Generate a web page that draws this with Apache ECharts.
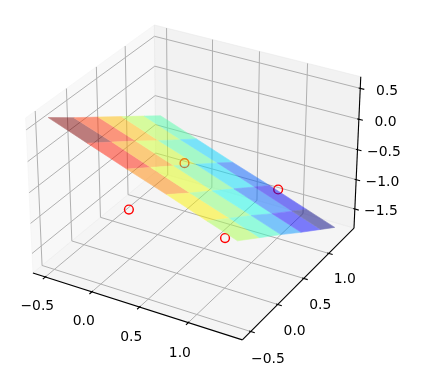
<!DOCTYPE html>
<html><head><meta charset="utf-8">
<script src="https://cdn.jsdelivr.net/npm/echarts/dist/echarts.min.js"></script>
<style>html,body{margin:0;padding:0;background:#fff}#c{width:423px;height:385px}</style>
</head><body><div id="c"></div>
<script>
// ---------------- data ----------------
const X_GRID = [-0.5, -0.1, 0.3, 0.7, 1.1, 1.4];
const Y_GRID = [-0.5, -0.1, 0.3, 0.7, 1.1, 1.4];
// Z_GRID[j][i] : surface height at (X_GRID[i], Y_GRID[j])
const Z_GRID = [
  [ 0.64,  0.41,  0.18, -0.04, -0.27, -0.44],
  [ 0.35,  0.13, -0.10, -0.33, -0.55, -0.72],
  [ 0.07, -0.15, -0.38, -0.61, -0.83, -1.00],
  [-0.21, -0.44, -0.66, -0.89, -1.12, -1.29],
  [-0.49, -0.72, -0.94, -1.17, -1.40, -1.57],
  [-0.70, -0.93, -1.16, -1.38, -1.61, -1.78]
];
const PTS_X = [0, 0, 1, 1];
const PTS_Y = [0, 1, 0, 1];
const PTS_Z = [-1, -1, -1, -1];

const X_TICKS = [-0.5, 0.0, 0.5, 1.0];
const Y_TICKS = [-0.5, 0.0, 0.5, 1.0];
const Z_TICKS = [-1.5, -1.0, -0.5, 0.0, 0.5];
const X_TICK_LABELS = ['\u22120.5', '0.0', '0.5', '1.0'];
const Y_TICK_LABELS = ['\u22120.5', '0.0', '0.5', '1.0'];
const Z_TICK_LABELS = ['\u22121.5', '\u22121.0', '\u22120.5', '0.0', '0.5'];

// axis box extents (data units)
const X_LIM = [-0.635, 1.541];
const Y_LIM = [-0.650, 1.526];
const Z_LIM = [-1.829, 0.686];

// ---------------- 3D view (elev=30, azim=-60) ----------------
const ELEV = 30 * Math.PI / 180, AZIM = -60 * Math.PI / 180;
const BOX = [4, 4, 3];
const DIST = 35;
const Wv = [Math.cos(ELEV) * Math.cos(AZIM), Math.cos(ELEV) * Math.sin(AZIM), Math.sin(ELEV)];
let Uv = [-Wv[1], Wv[0], 0];
{ const n = Math.hypot(Uv[0], Uv[1]); Uv = [Uv[0] / n, Uv[1] / n, 0]; }
const Vv = [Wv[1] * Uv[2] - Wv[2] * Uv[1], Wv[2] * Uv[0] - Wv[0] * Uv[2], Wv[0] * Uv[1] - Wv[1] * Uv[0]];
const CX = 196.3, CY = 175.2, KX = 2100, KY = 2063;

function boxCoord(x, y, z) {
  return [(x - X_LIM[0]) / (X_LIM[1] - X_LIM[0]) * BOX[0],
          (y - Y_LIM[0]) / (Y_LIM[1] - Y_LIM[0]) * BOX[1],
          (z - Z_LIM[0]) / (Z_LIM[1] - Z_LIM[0]) * BOX[2]];
}
function projBox(b) {
  const q = [b[0] - BOX[0] / 2, b[1] - BOX[1] / 2, b[2] - BOX[2] / 2];
  const X = Uv[0] * q[0] + Uv[1] * q[1] + Uv[2] * q[2];
  const Y = Vv[0] * q[0] + Vv[1] * q[1] + Vv[2] * q[2];
  const D = DIST - (Wv[0] * q[0] + Wv[1] * q[1] + Wv[2] * q[2]);
  return [CX + KX * X / D, CY - KY * Y / D];
}
function proj(x, y, z) { return projBox(boxCoord(x, y, z)); }

// jet colormap
const JET_R = [[0, 0], [0.35, 0], [0.66, 1], [0.89, 1], [1, 0.5]];
const JET_G = [[0, 0], [0.125, 0], [0.375, 1], [0.64, 1], [0.91, 0], [1, 0]];
const JET_B = [[0, 0.5], [0.11, 1], [0.34, 1], [0.65, 0], [1, 0]];
function seg(s, v) {
  for (let k = 0; k < s.length - 1; k++) {
    if (v >= s[k][0] && v <= s[k + 1][0]) return s[k][1] + (s[k + 1][1] - s[k][1]) * (v - s[k][0]) / (s[k + 1][0] - s[k][0]);
  }
  return v < 0 ? s[0][1] : s[s.length - 1][1];
}
function jet(v, a) {
  v = Math.min(1, Math.max(0, v));
  return 'rgba(' + Math.round(seg(JET_R, v) * 255) + ',' + Math.round(seg(JET_G, v) * 255) + ',' + Math.round(seg(JET_B, v) * 255) + ',' + a + ')';
}

// ---------------- build primitives ----------------
const xl = X_LIM, yl = Y_LIM, zl = Z_LIM;
const panes = [
  { pts: [[xl[0], yl[0], zl[0]], [xl[0], yl[1], zl[0]], [xl[0], yl[1], zl[1]], [xl[0], yl[0], zl[1]]], color: 'rgba(242,242,242,0.5)' },
  { pts: [[xl[0], yl[1], zl[0]], [xl[1], yl[1], zl[0]], [xl[1], yl[1], zl[1]], [xl[0], yl[1], zl[1]]], color: 'rgba(230,230,230,0.5)' },
  { pts: [[xl[0], yl[0], zl[0]], [xl[1], yl[0], zl[0]], [xl[1], yl[1], zl[0]], [xl[0], yl[1], zl[0]]], color: 'rgba(236,236,236,0.5)' }
];
const gridLines = [];
X_TICKS.forEach(t => gridLines.push([[t, yl[0], zl[0]], [t, yl[1], zl[0]], [t, yl[1], zl[1]]]));
Y_TICKS.forEach(t => gridLines.push([[xl[1], t, zl[0]], [xl[0], t, zl[0]], [xl[0], t, zl[1]]]));
Z_TICKS.forEach(t => gridLines.push([[xl[0], yl[0], t], [xl[0], yl[1], t], [xl[1], yl[1], t]]));

const axisLines = [];
axisLines.push([boxCoord(xl[0], yl[0], zl[0]), boxCoord(xl[1], yl[0], zl[0])]);
axisLines.push([boxCoord(xl[1], yl[0], zl[0]), boxCoord(xl[1], yl[1], zl[0])]);
axisLines.push([boxCoord(xl[1], yl[1], zl[0]), boxCoord(xl[1], yl[1], zl[1])]);
const T_IN = 0.03, T_OUT = 0.075;
const labels = [];
X_TICKS.forEach((t, k) => {
  const b = boxCoord(t, yl[0], zl[0]);
  axisLines.push([[b[0], b[1] + T_IN, b[2]], [b[0], b[1] - T_OUT, b[2]]]);
  labels.push({ b: [b[0], b[1] - 0.27, b[2] - 0.44], text: X_TICK_LABELS[k] });
});
Y_TICKS.forEach((t, k) => {
  const b = boxCoord(xl[1], t, zl[0]);
  axisLines.push([[b[0] - T_IN, b[1], b[2]], [b[0] + T_OUT, b[1], b[2]]]);
  labels.push({ b: [b[0] + 0.322, b[1], b[2] - 0.435], text: Y_TICK_LABELS[k] });
});
Z_TICKS.forEach((t, k) => {
  const b = boxCoord(xl[1], yl[1], t);
  axisLines.push([[b[0] - T_IN, b[1], b[2]], [b[0] + T_OUT, b[1], b[2]]]);
  labels.push({ b: [b[0] + 0.43, b[1] + 0.137, b[2]], text: Z_TICK_LABELS[k] });
});

// surface cells
const cells = [];
for (let j = 0; j < Y_GRID.length - 1; j++) {
  for (let i = 0; i < X_GRID.length - 1; i++) {
    const pts = [[X_GRID[i], Y_GRID[j], Z_GRID[j][i]], [X_GRID[i + 1], Y_GRID[j], Z_GRID[j][i + 1]],
                 [X_GRID[i + 1], Y_GRID[j + 1], Z_GRID[j + 1][i + 1]], [X_GRID[i], Y_GRID[j + 1], Z_GRID[j + 1][i]]];
    const avg = pts.reduce((s, p) => s + p[2], 0) / 4;
    cells.push({ pts, avg });
  }
}
const aMin = Math.min(...cells.map(c => c.avg)), aMax = Math.max(...cells.map(c => c.avg));
cells.forEach(c => { c.t = (c.avg - aMin) / (aMax - aMin); });

const points = PTS_X.map((x, k) => [x, PTS_Y[k], PTS_Z[k]]);

// ---------------- echarts ----------------
function layer(z, items, build, zlevel) {
  return {
    type: 'custom', z, zlevel: zlevel || 0, silent: true, animation: false, clip: false,
    coordinateSystem: 'cartesian2d',
    data: items.map((_, i) => [i, 0]),
    renderItem: (params, api) => build(items[params.dataIndex], api)
  };
}
const C = (api, p) => api.coord(p);

function buildOption(surfAlpha) {
  return {
    animation: false,
    backgroundColor: '#ffffff',
    grid: { left: 0, right: 0, top: 0, bottom: 0, containLabel: false },
    xAxis: { type: 'value', min: 0, max: 423, show: false },
    yAxis: { type: 'value', min: 0, max: 385, inverse: true, show: false },
    series: [
      layer(1, panes, (p, api) => ({
        type: 'polygon',
        shape: { points: p.pts.map(v => C(api, proj(v[0], v[1], v[2]))) },
        style: { fill: p.color, stroke: p.color, lineWidth: 1 }
      })),
      layer(2, gridLines, (g, api) => ({
        type: 'polyline',
        shape: { points: g.map(v => C(api, proj(v[0], v[1], v[2]))) },
        style: { fill: null, stroke: '#b0b0b0', lineWidth: 1 }
      })),
      layer(3, axisLines, (l, api) => ({
        type: 'polyline',
        shape: { points: l.map(b => C(api, projBox(b))) },
        style: { fill: null, stroke: '#000000', lineWidth: 1.1 }
      })),
      layer(4, points, (p, api) => {
        const c = C(api, proj(p[0], p[1], p[2]));
        return { type: 'circle', shape: { cx: c[0], cy: c[1], r: 4.4 },
                 style: { fill: null, stroke: '#ff0000', lineWidth: 1.4 } };
      }),
      layer(6, labels, (l, api) => {
        const c = C(api, projBox(l.b));
        return { type: 'text', x: c[0], y: c[1],
                 style: { text: l.text, fill: '#000000', font: '13.9px "DejaVu Sans"', align: 'center', verticalAlign: 'middle' } };
      }),
      layer(5, cells, (c, api) => {
        const col = jet(c.t, surfAlpha);
        return {
          type: 'polygon',
          shape: { points: c.pts.map(v => C(api, proj(v[0], v[1], v[2]))) },
          style: surfAlpha >= 1 ? { fill: col, stroke: col, lineWidth: 0.6 } : { fill: col }
        };
      }, 1)
    ]
  };
}
const chart = echarts.init(document.getElementById('c'), null, { renderer: 'canvas' });
chart.setOption(buildOption(1));
// surface is drawn opaque on its own layer, and the layer is composited at 50% (alpha = 0.5, no seams)
let ok = false;
try {
  const zr = chart.getZr();
  const lyr = zr.painter && zr.painter.getLayer ? zr.painter.getLayer(1) : null;
  if (lyr && lyr.dom) { lyr.dom.style.opacity = '0.5'; ok = true; }
} catch (e) { ok = false; }
if (!ok) chart.setOption(buildOption(0.5), true);
</script></body></html>
